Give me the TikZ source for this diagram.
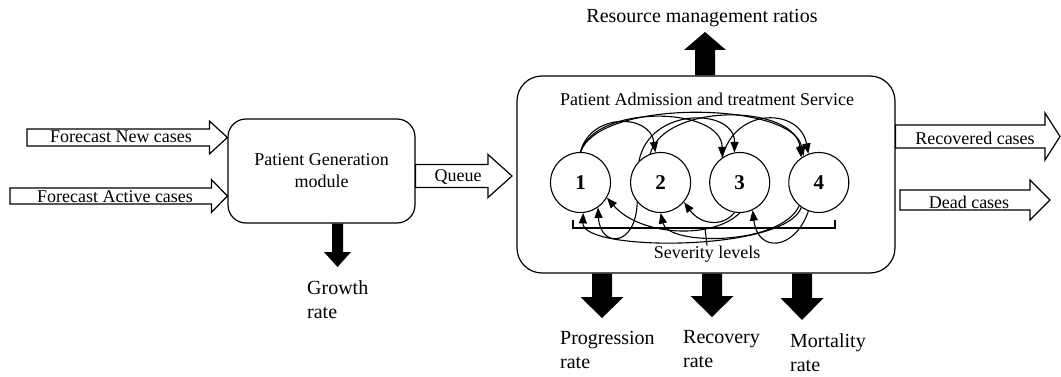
\documentclass[tikz,border=0pt]{standalone}
\usepackage{fontspec}
\setmainfont{Liberation Serif}
\usetikzlibrary{arrows.meta, positioning, calc}

% block arrow pointing right: [style]{from}{to}{shaft half}{head half}{head length}
\newcommand{\harrow}[6][blockopen]{%
  \path[#1] let \p1=(#2), \p2=(#3) in
    (\x1,\y2+#4) -- (\x2-#6,\y2+#4) -- (\x2-#6,\y2+#5) -- (\x2,\y2)
    -- (\x2-#6,\y2-#5) -- (\x2-#6,\y2-#4) -- (\x1,\y2-#4) -- cycle;}
% block arrow going up or down
\newcommand{\varrow}[6][blockfill]{%
  \path[#1] let \p1=(#2), \p2=(#3), \n1={sign(\y2-\y1)} in
    ({\x1-#4},\y1) -- ({\x1-#4},{\y2-(\n1)*#6}) -- ({\x1-#5},{\y2-(\n1)*#6}) -- (\x1,\y2)
    -- ({\x1+#5},{\y2-(\n1)*#6}) -- ({\x1+#4},{\y2-(\n1)*#6}) -- ({\x1+#4},\y1) -- cycle;}

\begin{document}
\begin{tikzpicture}[
x=1pt, y=-1pt,
>={Triangle[length=10.5pt,width=8pt]},
every node/.style={font=\fontsize{18}{22}\selectfont, inner sep=0pt},
roundbox/.style={draw, line width=1.2pt, rounded corners=18pt, align=center},
level/.style={draw, circle, line width=1.1pt, minimum size=60pt, font=\fontsize{21}{24}\selectfont\bfseries},
ratelabel/.style={anchor=west, align=left, font=\fontsize{20}{24}\selectfont},
blockopen/.style={draw, line width=1.2pt, fill=white},
blockfill/.style={fill=black},
flow/.style={->, line width=1.1pt}
]
\useasboundingbox (0,0) rectangle (1061,377);

% modules
\node[roundbox, minimum width=187pt, minimum height=104pt] (gen) at (321.5,171) {Patient Generation\\module};
\node[roundbox, rounded corners=25pt, minimum width=378pt, minimum height=197pt] (pats) at (706,174.5) {};
\node (title) at (707,99) {Patient Admission and treatment Service};

% severity levels
\node[level] (l1) at (580.5,182.5) {1};
\node[level] (l2) [right=19pt of l1] {2};
\node[level] (l3) [right=18pt of l2] {3};
\node[level] (l4) [right=18pt of l3] {4};
\node (sev) at (707,254) {Severity levels};
\draw[line width=1.1pt] (573,220) -- (573,228) -- (835,228) -- (835,220);
\draw[line width=1.1pt] (705,228) -- (sev.north);

% progression
\draw[flow] (l1.north) .. controls (590,113) and (650,113) .. (l2.100);
\draw[flow] (l1.north) .. controls (595,104) and (722,106) .. (l3.125);
\draw[flow] (l1.north) .. controls (600,98) and (792,102) .. (l4.120);
\draw[flow] (l2.135) .. controls (650,106) and (735,108) .. (l3.100);
\draw[flow] (l2.110) .. controls (665,102) and (795,104) .. (l4.125);
\draw[flow] (l3.125) .. controls (735,106) and (800,108) .. (l4.110);

% recovery
\draw[flow] (l2.220) .. controls (636,248) and (600,248) .. (l1.-55);
\draw[flow] (l3.south) .. controls (712,240) and (640,236) .. (l1.-30);
\draw[flow] (l3.-100) .. controls (722,228) and (700,224) .. (l2.-40);
\draw[flow] (l4.235) .. controls (785,252) and (582,252) .. (l1.-85);
\draw[flow] (l4.230) .. controls (780,246) and (668,246) .. (l2.south);
\draw[flow] (l4.-110) .. controls (795,250) and (758,254) .. (l3.-65);

% inputs and outputs
\coordinate (newsrc) at (27,137.5);
\coordinate (actsrc) at (10,196);
\coordinate (queuetip) at (512,176);
\coordinate (rectip) at (1060,136.5);
\coordinate (deadsrc) at (900,200);
\coordinate (deadtip) at (1050,200);
\harrow{newsrc}{gen.west |- newsrc}{8.5pt}{16.5pt}{18pt}
\harrow{actsrc}{gen.west |- actsrc}{8pt}{16.5pt}{16pt}
\harrow{gen.east |- queuetip}{queuetip}{11.5pt}{21.5pt}{24pt}
\harrow{pats.east |- rectip}{rectip}{11.5pt}{23.5pt}{15pt}
\harrow{deadsrc}{deadtip}{10pt}{20pt}{20pt}

\node (newl) at (121,137) {Forecast New cases};
\node (actl) at (115,197) {Forecast Active cases};
\node (queuel) at (458,177) {Queue};
\node (recl) at (975,138) {Recovered cases};
\node (deadl) at (969,202) {Dead cases};

% rates
\node[font=\fontsize{20}{24}\selectfont] (resl) at (702,18) {Resource management ratios};
\node[ratelabel] (growth) at (307,300) {Growth\\rate};
\node[ratelabel] (prog) at (560,350) {Progression\\rate};
\node[ratelabel] (recov) at (683,349) {Recovery\\rate};
\node[ratelabel] (mort) at (790,353) {Mortality\\rate};

\coordinate (restip) at (705,32);
\coordinate (growtip) at (337.5,267);
\coordinate (progtip) at (602,318);
\coordinate (recovtip) at (712,317);
\coordinate (morttip) at (802,320);
\varrow{restip |- pats.north}{restip}{10pt}{21pt}{18pt}
\varrow{growtip |- gen.south}{growtip}{5.5pt}{13.5pt}{15pt}
\varrow{progtip |- pats.south}{progtip}{10pt}{21.5pt}{21pt}
\varrow{recovtip |- pats.south}{recovtip}{10pt}{21.5pt}{21pt}
\varrow{morttip |- pats.south}{morttip}{10pt}{21.5pt}{22pt}

\end{tikzpicture}
\end{document}
